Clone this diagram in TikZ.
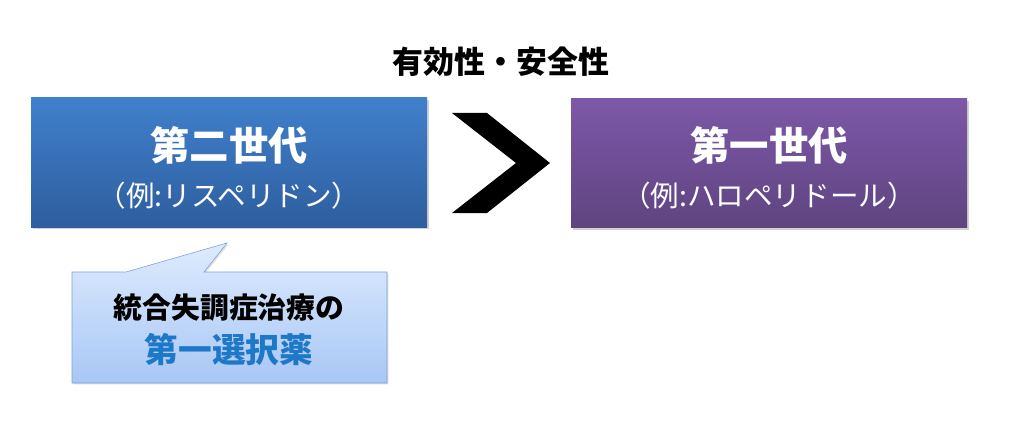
\documentclass[tikz,border=0pt]{standalone}
\usepackage{fontspec}
\newfontfamily\jp{Noto Sans CJK JP}
\usetikzlibrary{shapes,arrows,shadows}

\definecolor{secondtop}{RGB}{64,128,204}
\definecolor{secondbot}{RGB}{46,94,158}
\definecolor{firsttop}{RGB}{126,88,168}
\definecolor{firstbot}{RGB}{94,68,128}
\definecolor{calltop}{RGB}{222,235,254}
\definecolor{callbot}{RGB}{168,199,245}
\definecolor{callline}{RGB}{122,162,216}
\definecolor{drugblue}{RGB}{30,120,200}

\tikzset{
    genbox/.style={minimum width=396\unitpx, minimum height=129\unitpx, inner sep=0pt,
        text=white, align=center, drop shadow={opacity=0.35, shadow xshift=1.5pt, shadow yshift=-1.5pt}},
}
\newlength{\unitpx}
\setlength{\unitpx}{0.025cm}

\begin{document}
\begin{tikzpicture}[x=0.025cm, y=-0.025cm, font=\jp]
\useasboundingbox[fill=white] (0,0) rectangle (1024,426);
% title
\node (title) at (501,62) {\fontsize{22}{26}\selectfont\bfseries 有効性・安全性};
% boxes
\node[genbox, top color=secondtop, bottom color=secondbot] (second) at (229,162.5) {};
\node[genbox, top color=firsttop, bottom color=firstbot] (first) at (769,163) {};
\node[text=white] (secondname) at (229,145) {\fontsize{28}{32}\selectfont\bfseries 第二世代};
\node[text=white] (secondex) at (229,196) {\fontsize{20.3}{24}\selectfont （例:リスペリドン）};
\node[text=white] (firstname) at (769,145) {\fontsize{28}{32}\selectfont\bfseries 第一世代};
\node[text=white] (firstex) at (769,196) {\fontsize{20.3}{24}\selectfont （例:ハロペリドール）};
% chevron
\fill[black] (452,113) -- (487,113) -- (550,163) -- (487,213) -- (452,213) -- (516,163) -- cycle;
% callout
\draw[callline, top color=calltop, bottom color=callbot, drop shadow={opacity=0.25, shadow xshift=1pt, shadow yshift=-1pt}]
    (126,272) -- (227,243) -- (204,272) -- (387,272) -- (387,383) -- (72,383) -- (72,272) -- cycle;
\node (calltext) at (229,308) {\fontsize{20.5}{24}\selectfont\bfseries 統合失調症治療の};
\node[text=drugblue] (drug) at (229,350) {\fontsize{24}{28}\selectfont\bfseries 第一選択薬};
\end{tikzpicture}
\end{document}
